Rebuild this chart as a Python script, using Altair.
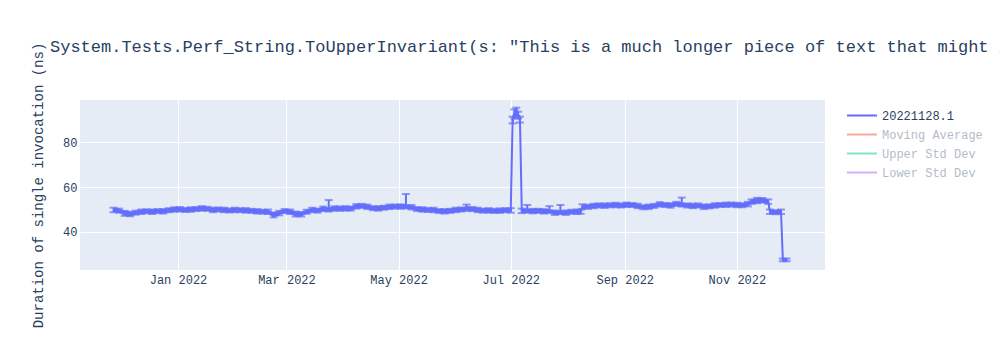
import altair as alt
import pandas as pd

# ---------------- data ----------------
dates = [
    "2021-11-27", "2021-11-30", "2021-12-03", "2021-12-06", "2021-12-09", "2021-12-12",
    "2021-12-15", "2021-12-18", "2021-12-21", "2021-12-24", "2021-12-27", "2021-12-30",
    "2022-01-02", "2022-01-05", "2022-01-08", "2022-01-11", "2022-01-14", "2022-01-17",
    "2022-01-20", "2022-01-23", "2022-01-26", "2022-01-29", "2022-02-01", "2022-02-04",
    "2022-02-07", "2022-02-10", "2022-02-13", "2022-02-16", "2022-02-19", "2022-02-22",
    "2022-02-25", "2022-02-28", "2022-03-03", "2022-03-06", "2022-03-09", "2022-03-12",
    "2022-03-15", "2022-03-18", "2022-03-21", "2022-03-24", "2022-03-27", "2022-03-30",
    "2022-04-02", "2022-04-05", "2022-04-08", "2022-04-11", "2022-04-14", "2022-04-17",
    "2022-04-20", "2022-04-23", "2022-04-26", "2022-04-29", "2022-05-02", "2022-05-05",
    "2022-05-08", "2022-05-11", "2022-05-14", "2022-05-17", "2022-05-20", "2022-05-23",
    "2022-05-26", "2022-05-29", "2022-06-01", "2022-06-04", "2022-06-07", "2022-06-10",
    "2022-06-13", "2022-06-16", "2022-06-19", "2022-06-22", "2022-06-25", "2022-06-28",
    "2022-07-01", "2022-07-02", "2022-07-03", "2022-07-04", "2022-07-05", "2022-07-06",
    "2022-07-07", "2022-07-10", "2022-07-13", "2022-07-16", "2022-07-19", "2022-07-22",
    "2022-07-25", "2022-07-28", "2022-07-31", "2022-08-03", "2022-08-06", "2022-08-08",
    "2022-08-09", "2022-08-12", "2022-08-15", "2022-08-18", "2022-08-21", "2022-08-24",
    "2022-08-27", "2022-08-30", "2022-09-02", "2022-09-05", "2022-09-08", "2022-09-11",
    "2022-09-14", "2022-09-17", "2022-09-20", "2022-09-23", "2022-09-26", "2022-09-29",
    "2022-10-02", "2022-10-05", "2022-10-08", "2022-10-11", "2022-10-14", "2022-10-17",
    "2022-10-20", "2022-10-23", "2022-10-26", "2022-10-29", "2022-11-01", "2022-11-04",
    "2022-11-07", "2022-11-09", "2022-11-12", "2022-11-15", "2022-11-18", "2022-11-19",
    "2022-11-22", "2022-11-25", "2022-11-26", "2022-11-28",
]
values = [
    49.8, 49.5, 48.3, 48.0, 48.6, 49.0,
    49.2, 49.0, 49.3, 49.2, 49.7, 50.0,
    50.1, 49.8, 50.0, 50.2, 50.5, 50.3,
    49.8, 50.0, 49.8, 49.6, 49.8, 49.7,
    49.6, 49.4, 49.2, 49.0, 49.0, 47.6,
    48.4, 49.3, 49.0, 48.0, 47.9, 49.0,
    49.8, 49.5, 50.3, 50.0, 50.5, 50.4,
    50.5, 50.4, 51.4, 51.6, 51.2, 50.6,
    50.5, 50.8, 51.2, 51.3, 51.3, 51.4,
    51.0, 50.2, 50.0, 49.8, 49.8, 49.3,
    49.2, 49.4, 49.8, 50.0, 50.4, 50.2,
    49.8, 49.5, 49.6, 49.4, 49.5, 49.7,
    49.6, 89.8, 92.5, 93.5, 92.0, 90.0,
    49.4, 49.5, 49.3, 49.4, 49.2, 49.3,
    48.6, 48.8, 48.6, 49.0, 49.0, 49.0,
    51.3, 51.2, 51.6, 51.8, 51.7, 51.9,
    52.0, 51.8, 52.1, 52.0, 51.6, 51.0,
    51.2, 51.6, 52.3, 52.0, 51.8, 52.5,
    52.3, 51.8, 51.6, 51.8, 51.2, 51.4,
    51.8, 52.0, 52.1, 52.2, 52.0, 51.9,
    52.4, 53.5, 54.0, 54.1, 53.5, 49.0,
    48.8, 49.0, 27.6, 27.6,
]
errors = [
    1.0, 0.9, 1.1, 1.0, 0.9, 1.0,
    0.9, 1.0, 0.9, 1.0, 0.9, 1.0,
    1.0, 0.9, 1.0, 0.9, 1.0, 0.9,
    1.0, 0.9, 1.0, 0.9, 1.0, 0.9,
    1.0, 0.9, 1.0, 0.9, 1.0, 1.1,
    1.0, 0.9, 1.0, 1.1, 1.0, 0.9,
    1.0, 0.9, 1.0, 0.9, 1.0, 0.9,
    1.0, 0.9, 1.0, 0.9, 1.0, 0.9,
    1.0, 0.9, 1.0, 0.9, 1.0, 0.9,
    1.0, 0.9, 1.0, 0.9, 1.0, 0.9,
    1.0, 0.9, 1.0, 0.9, 1.0, 0.9,
    1.0, 0.9, 1.0, 0.9, 1.0, 0.9,
    1.0, 1.5, 2.0, 1.8, 1.5, 1.3,
    1.0, 0.9, 1.0, 0.9, 1.0, 0.9,
    1.0, 0.9, 1.0, 0.9, 1.0, 0.9,
    1.0, 0.9, 1.0, 0.9, 1.0, 0.9,
    1.0, 0.9, 1.0, 0.9, 1.0, 0.9,
    1.0, 0.9, 1.0, 0.9, 1.0, 0.9,
    1.0, 0.9, 1.0, 0.9, 1.0, 0.9,
    1.0, 0.9, 1.0, 0.9, 1.0, 0.9,
    1.0, 1.0, 1.2, 1.0, 1.0, 1.0,
    0.9, 1.0, 0.6, 0.6,
]
# error bars reaching far above the point
spike_upper = {
    "2022-03-24": 54.2,
    "2022-05-05": 56.9,
    "2022-06-07": 52.2,
    "2022-07-10": 52.0,
    "2022-07-22": 51.5,
    "2022-07-28": 52.0,
    "2022-10-02": 55.3,
}
series_names = ["20221128.1", "Moving Average", "Upper Std Dev", "Lower Std Dev"]
series_colors = ["#636efa", "#EF553B", "#00cc96", "#ab63fa"]
y_ticks = [40, 60, 80]
x_tick_months = [(2022, 1), (2022, 3), (2022, 5), (2022, 7), (2022, 9), (2022, 11)]

title_text = ('System.Tests.Perf_String.ToUpperInvariant(s: "This is a much longer piece '
              'of text that might include surrogates")')
y_title = "Duration of single invocation (ns)"

# ---------------- table ----------------
lo = [v - e for v, e in zip(values, errors)]
band_hi = [v + e for v, e in zip(values, errors)]
hi = [max(v + e, spike_upper.get(d, 0)) for d, v, e in zip(dates, values, errors)]
df = pd.DataFrame({
    "date": dates, "value": values, "lo": lo, "hi": hi, "band_hi": band_hi,
    "series": [series_names[0]] * len(dates),
})

FONT = "Liberation Mono"
TXT = "#2a3f5f"
BLUE = series_colors[0]

x_enc = alt.X(
    "date:T",
    scale=alt.Scale(
        type="utc",
        domain=[alt.DateTime(year=2021, month=11, date=8, hours=17, utc=True),
                alt.DateTime(year=2022, month=12, date=18, hours=22, utc=True)],
    ),
    axis=alt.Axis(
        values=[alt.DateTime(year=y, month=m, date=1, utc=True) for y, m in x_tick_months],
        labelExpr="utcFormat(datum.value, '%b %Y')", title=None,
        labelFont=FONT, labelFontSize=12, labelColor=TXT,
        grid=True, gridColor="white", gridWidth=1,
        domain=False, ticks=False, tickSize=0, labelPadding=4,
    ),
)
y_scale = alt.Scale(domain=[23.1, 98.7], nice=False, zero=False)
y_axis = alt.Axis(
    values=y_ticks, title=y_title, titleFont=FONT, titleFontSize=14, titleColor=TXT,
    titleFontWeight="normal", titlePadding=17,
    labelFont=FONT, labelFontSize=12, labelColor=TXT,
    grid=True, gridColor="white", gridWidth=1,
    domain=False, ticks=False, tickSize=0, labelPadding=3,
)

base = alt.Chart(df)

band = base.mark_area(color=BLUE, opacity=1).encode(
    x=x_enc, y=alt.Y("lo:Q", scale=y_scale, axis=y_axis), y2="band_hi:Q"
)
rules = base.mark_rule(color=BLUE, strokeWidth=2).encode(
    x=x_enc, y=alt.Y("lo:Q", scale=y_scale), y2="hi:Q"
)
caps_lo = base.mark_tick(color=BLUE, thickness=2, size=8, orient="horizontal").encode(
    x=x_enc, y=alt.Y("lo:Q", scale=y_scale)
)
caps_hi = base.mark_tick(color=BLUE, thickness=2, size=8, orient="horizontal").encode(
    x=x_enc, y=alt.Y("hi:Q", scale=y_scale)
)
line = base.mark_line(strokeWidth=2).encode(
    x=x_enc,
    y=alt.Y("value:Q", scale=y_scale),
    color=alt.Color(
        "series:N",
        scale=alt.Scale(domain=series_names, range=series_colors),
        legend=alt.Legend(
            title=None, orient="none", legendX=766, legendY=8,
            symbolType="stroke", symbolSize=900, symbolStrokeWidth=2,
            symbolOpacity=alt.ExprRef("datum.value === '20221128.1' ? 1 : 0.5"),
            labelColor=alt.ExprRef("datum.value === '20221128.1' ? '#2a3f5f' : '#b4bcc8'"),
            labelFont=FONT, labelFontSize=12, labelOffset=4,
            clipHeight=15, rowPadding=4, padding=0,
        ),
    ),
)

chart = alt.layer(band, rules, caps_lo, caps_hi, line).properties(
    width=745, height=170,
    autosize=alt.AutoSizeParams(type="none"),
    padding={"left": 80, "top": 100, "right": 175, "bottom": 80},
    title=alt.TitleParams(
        text=title_text, font=FONT, fontSize=17, color=TXT, fontWeight="normal",
        anchor="start", frame="group", dx=-30, offset=-27, baseline="alphabetic",
    ),
    background="white",
).configure_view(fill="#E5ECF6", stroke=None)

chart.save("out.html", embed_options={"renderer": "svg", "actions": False})
